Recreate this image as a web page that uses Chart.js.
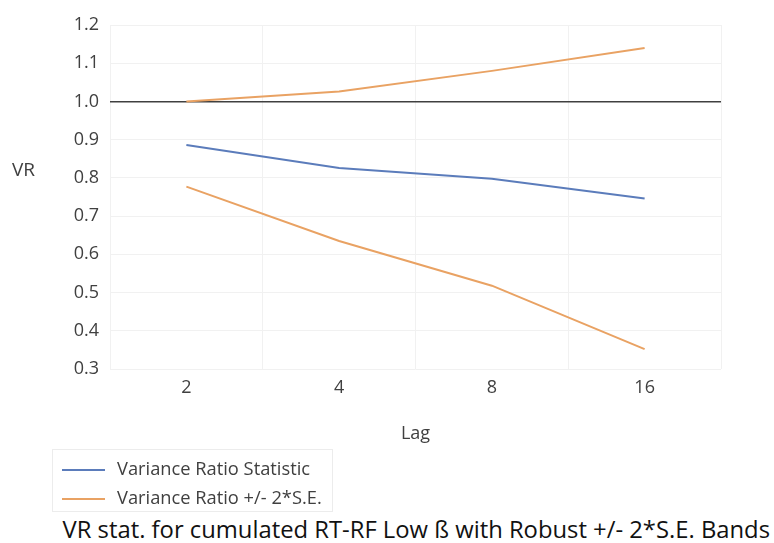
<!DOCTYPE html>
<html>
<head>
<meta charset="utf-8">
<script src="https://cdn.jsdelivr.net/npm/chart.js@4.4.1/dist/chart.umd.min.js"></script>
<style>
	html, body { margin: 0; padding: 0; background: #fff; }
	#wrap { position: relative; width: 774px; height: 543px; font-family: "Open Sans", sans-serif; color: #404040; }
	#chart { position: absolute; left: 0; top: 0; }
	#yTitle { position: absolute; left: 12px; top: 156px; font-size: 19px; color: #404040; }
	#legend { position: absolute; left: 52px; top: 449px; width: 281px; height: 63px; border: 1px solid #ececec; box-sizing: border-box; }
	.item { position: absolute; left: 9px; font-size: 18.3px; line-height: 22px; color: #404040; white-space: nowrap; }
	.item span.line { display: inline-block; width: 43px; height: 2px; vertical-align: middle; margin-right: 12px; }
	#title { position: absolute; left: 0; width: 774px; top: 513px; text-align: right; font-size: 23.8px; line-height: 32px; color: #111; white-space: nowrap; padding-right: 4px; box-sizing: border-box; }
</style>
</head>
<body>
<div id="wrap">
	<canvas id="chart" width="774" height="450"></canvas>
	<div id="yTitle">VR</div>
	<div id="legend"></div>
	<div id="title">VR stat. for cumulated RT-RF Low ß with Robust +/- 2*S.E. Bands</div>
</div>
<script>
	const lags = ["2", "4", "8", "16"];
	const vrStat = [0.886, 0.826, 0.798, 0.746];
	const upperBand = [1.0, 1.026, 1.080, 1.140];
	const lowerBand = [0.777, 0.635, 0.518, 0.352];
	const legendLabels = ["Variance Ratio Statistic", "Variance Ratio +/- 2*S.E."];

	const blue = "#5b7cbb";
	const orange = "#e9a263";

	function lineSet(label, data, color) {
		return {
			label: label,
			data: data,
			borderColor: color,
			backgroundColor: color,
			borderWidth: 2,
			pointRadius: 0,
			tension: 0,
		};
	}

	// html legend, two entries (both bands share one)
	const legendEl = document.getElementById("legend");
	[blue, orange].forEach((c, i) => {
		const d = document.createElement("div");
		d.className = "item";
		d.style.top = (7 + i * 29) + "px";
		d.innerHTML = '<span class="line" style="background:' + c + '"></span>' + legendLabels[i];
		legendEl.appendChild(d);
	});

	const ctx = document.getElementById("chart");
	new Chart(ctx, {
		type: "line",
		data: {
			labels: lags,
			datasets: [
				lineSet(legendLabels[0], vrStat, blue),
				lineSet(legendLabels[1], upperBand, orange),
				lineSet(legendLabels[1], lowerBand, orange),
			],
		},
		options: {
			responsive: false,
			animation: false,
			layout: { padding: { top: 25, right: 53, bottom: 0, left: 0 } },
			plugins: { legend: { display: false }, tooltip: { enabled: false } },
			scales: {
				x: {
					offset: true,
					afterFit: (scale) => { scale.height = 81; },
					grid: { offset: true, color: "#f1f1f1", drawTicks: false },
					border: { display: false },
					ticks: { font: { family: "Open Sans", size: 18 }, color: "#404040", padding: 8 },
					title: { display: true, text: "Lag", font: { family: "Open Sans", size: 18 }, color: "#404040", padding: { top: 4, bottom: 5 } },
				},
				y: {
					min: 0.3,
					max: 1.2,
					afterFit: (scale) => { scale.width = 110; },
					ticks: {
						stepSize: 0.1,
						font: { family: "Open Sans", size: 18 },
						color: "#404040",
						padding: 11,
						callback: (v) => v.toFixed(1),
					},
					grid: {
						drawTicks: false,
						color: (c) => (c.tick && Math.abs(c.tick.value - 1.0) < 1e-6 ? "#404040" : "#f1f1f1"),
						lineWidth: (c) => (c.tick && Math.abs(c.tick.value - 1.0) < 1e-6 ? 1.5 : 1),
					},
					border: { display: false },
				},
			},
		},
	});
</script>
</body>
</html>
